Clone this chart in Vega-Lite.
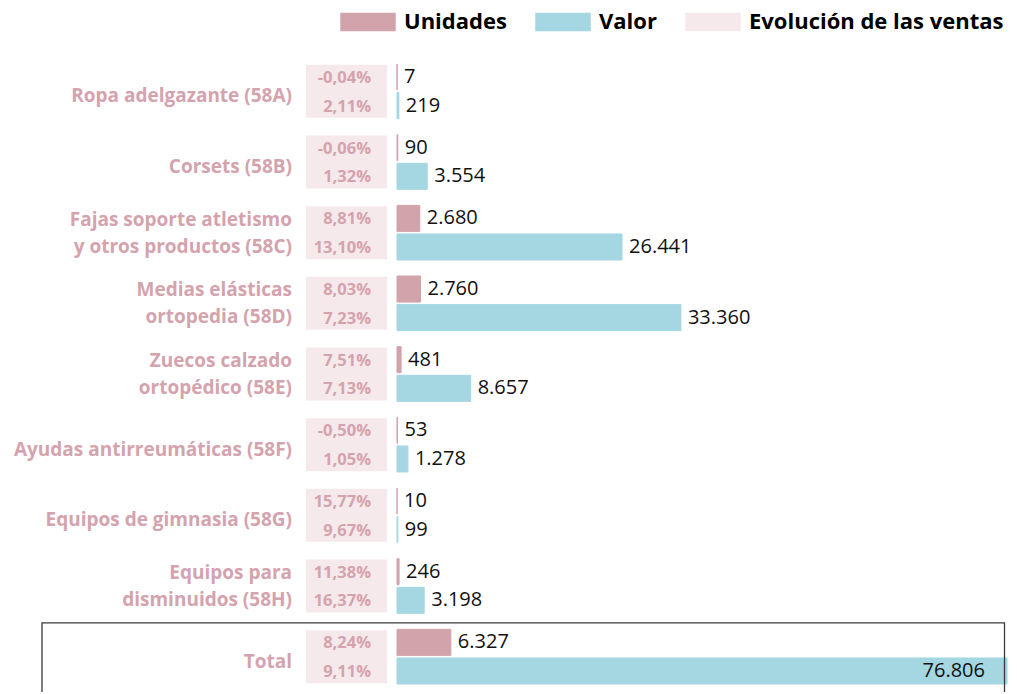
{
  "$schema": "https://vega.github.io/schema/vega-lite/v6.json",
  "width": 967,
  "height": 636,
  "autosize": {"type": "none"},
  "padding": {"left": 40, "top": 56, "right": 10, "bottom": 2},
  "background": "white",
  "config": {
    "view": {"stroke": null},
    "font": "Open Sans",
    "locale": {"number": {"decimal": ",", "thousands": ".", "grouping": [3], "currency": ["", " €"], "minus": "-"}},
    "legend": {"title": null, "orient": "none", "legendX": 300, "legendY": -62, "direction": "horizontal", "symbolType": "M-1,-0.33L1,-0.33L1,0.33L-1,0.33Z", "symbolSize": 3080, "symbolStrokeWidth": 0, "symbolOpacity": 1, "labelFontSize": 22, "labelFontWeight": "bold", "labelColor": "black", "labelFont": "Open Sans", "labelOffset": 8, "columnPadding": 28, "labelLimit": 400, "padding": 0}
  },
  "data": {
    "values": [
      {"cat": "Ropa adelgazante (58A)", "series": "Unidades", "value": 7, "pct": -0.0004},
      {"cat": "Ropa adelgazante (58A)", "series": "Valor", "value": 219, "pct": 0.0211},
      {"cat": "Corsets (58B)", "series": "Unidades", "value": 90, "pct": -0.0006},
      {"cat": "Corsets (58B)", "series": "Valor", "value": 3554, "pct": 0.0132},
      {"cat": "Fajas soporte atletismo\ny otros productos (58C)", "series": "Unidades", "value": 2680, "pct": 0.0881},
      {"cat": "Fajas soporte atletismo\ny otros productos (58C)", "series": "Valor", "value": 26441, "pct": 0.131},
      {"cat": "Medias elásticas\nortopedia (58D)", "series": "Unidades", "value": 2760, "pct": 0.0803},
      {"cat": "Medias elásticas\nortopedia (58D)", "series": "Valor", "value": 33360, "pct": 0.0723},
      {"cat": "Zuecos calzado\nortopédico (58E)", "series": "Unidades", "value": 481, "pct": 0.0751},
      {"cat": "Zuecos calzado\nortopédico (58E)", "series": "Valor", "value": 8657, "pct": 0.0713},
      {"cat": "Ayudas antirreumáticas (58F)", "series": "Unidades", "value": 53, "pct": -0.005},
      {"cat": "Ayudas antirreumáticas (58F)", "series": "Valor", "value": 1278, "pct": 0.0105},
      {"cat": "Equipos de gimnasia (58G)", "series": "Unidades", "value": 10, "pct": 0.1577},
      {"cat": "Equipos de gimnasia (58G)", "series": "Valor", "value": 99, "pct": 0.0967},
      {"cat": "Equipos para\ndisminuidos (58H)", "series": "Unidades", "value": 246, "pct": 0.1138},
      {"cat": "Equipos para\ndisminuidos (58H)", "series": "Valor", "value": 3198, "pct": 0.1637},
      {"cat": "Total", "series": "Unidades", "value": 6327, "pct": 0.0824},
      {"cat": "Total", "series": "Valor", "value": 76806, "pct": 0.0911}
    ]
  },
  "encoding": {
    "y": {
      "field": "cat", "type": "nominal", "axis": null,
      "sort": ["Ropa adelgazante (58A)", "Corsets (58B)", "Fajas soporte atletismo\ny otros productos (58C)", "Medias elásticas\nortopedia (58D)", "Zuecos calzado\nortopédico (58E)", "Ayudas antirreumáticas (58F)", "Equipos de gimnasia (58G)", "Equipos para\ndisminuidos (58H)", "Total"],
      "scale": {"paddingInner": 0, "paddingOuter": 0}
    }
  },
  "layer": [
    {
      "transform": [{"filter": "datum.series == 'Unidades' && indexof(datum.cat, '\\n') < 0"}],
      "mark": {"type": "text", "align": "right", "baseline": "middle", "dy": 5, "fontWeight": "bold", "fontSize": 19, "color": "#d4a3ad"},
      "encoding": {
        "x": {"datum": -12337, "type": "quantitative", "scale": {"domain": [-41947.5, 71675], "zero": false, "nice": false, "clamp": true}, "axis": null},
        "text": {"field": "cat", "type": "nominal"}
      }
    },
    {
      "transform": [{"filter": "datum.series == 'Unidades' && indexof(datum.cat, '\\n') >= 0"}],
      "mark": {"type": "text", "align": "right", "baseline": "middle", "dy": -13, "fontWeight": "bold", "fontSize": 19, "color": "#d4a3ad", "lineBreak": "\n", "lineHeight": 27},
      "encoding": {
        "x": {"datum": -12337, "type": "quantitative"},
        "text": {"field": "cat", "type": "nominal"}
      }
    },
    {
      "transform": [{"filter": "datum.series == 'Unidades'"}],
      "mark": {"type": "bar", "height": {"band": 0.75}},
      "encoding": {
        "x": {"datum": -10692, "type": "quantitative"},
        "x2": {"datum": -1175},
        "color": {
          "datum": "Evolución de las ventas",
          "type": "nominal",
          "scale": {"domain": ["Unidades", "Valor", "Evolución de las ventas"], "range": ["#d1a3ab", "#a4d7e1", "#f5e9eb"]},
          "legend": {"title": null}
        }
      }
    },
    {
      "mark": {"type": "text", "align": "right", "baseline": "middle", "dy": 1, "fontWeight": "bold", "fontSize": 16.5, "color": "#d4a3ad"},
      "encoding": {
        "x": {"datum": -3055, "type": "quantitative"},
        "yOffset": {"field": "series", "type": "nominal", "sort": ["Unidades", "Valor"], "scale": {"paddingInner": 0.09, "paddingOuter": 0.28}},
        "text": {"field": "pct", "type": "quantitative", "format": ".2%"}
      }
    },
    {
      "mark": {"type": "bar", "strokeWidth": 1},
      "encoding": {
        "x": {"field": "value", "type": "quantitative"},
        "x2": {"datum": 0},
        "yOffset": {"field": "series", "type": "nominal", "sort": ["Unidades", "Valor"], "scale": {"paddingInner": 0.09, "paddingOuter": 0.28}},
        "color": {"field": "series", "type": "nominal", "legend": {"title": null}},
        "stroke": {"field": "series", "type": "nominal", "scale": {"domain": ["Unidades", "Valor", "Evolución de las ventas"], "range": ["#d1a3ab", "#a4d7e1", "#f5e9eb"]}, "legend": null}
      }
    },
    {
      "transform": [{"filter": "datum.value < 70000"}],
      "mark": {"type": "text", "align": "left", "baseline": "middle", "dx": 7, "fontSize": 20, "color": "#111111"},
      "encoding": {
        "x": {"field": "value", "type": "quantitative"},
        "yOffset": {"field": "series", "type": "nominal", "sort": ["Unidades", "Valor"], "scale": {"paddingInner": 0.09, "paddingOuter": 0.28}},
        "text": {"field": "value", "type": "quantitative", "format": ",d"}
      }
    },
    {
      "transform": [{"filter": "datum.value >= 70000"}],
      "mark": {"type": "text", "align": "right", "baseline": "middle", "dx": -22, "fontSize": 20, "color": "#111111"},
      "encoding": {
        "x": {"field": "value", "type": "quantitative"},
        "yOffset": {"field": "series", "type": "nominal", "sort": ["Unidades", "Valor"], "scale": {"paddingInner": 0.09, "paddingOuter": 0.28}},
        "text": {"field": "value", "type": "quantitative", "format": ",d"}
      }
    },
    {
      "transform": [{"filter": "datum.cat == 'Total' && datum.series == 'Unidades'"}],
      "mark": {"type": "rect", "filled": false, "stroke": "#3a3a3a", "strokeWidth": 1.3, "clip": true, "yOffset": 1.5, "y2Offset": 1.5},
      "encoding": {
        "x": {"datum": -41712, "type": "quantitative"},
        "x2": {"datum": 71381}
      }
    }
  ]
}
